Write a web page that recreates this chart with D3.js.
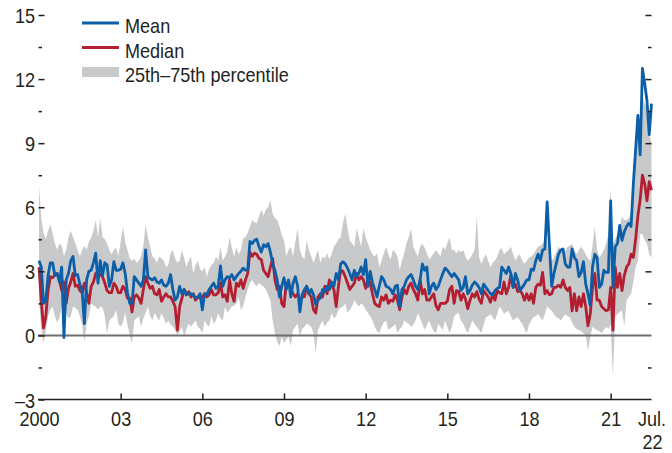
<!DOCTYPE html>
<html><head><meta charset="utf-8">
<script src="https://cdn.jsdelivr.net/npm/d3@7"></script>
<style>
html,body{margin:0;padding:0;background:#fff;}
svg{display:block;}
text{font-family:"Liberation Sans",Arial,sans-serif;font-size:21px;fill:#231f20;}
</style></head><body>
<svg id="chart" width="672" height="453"></svg>
<script>
// ---- data (monthly, Jan 2000 .. Jul 2022) ----
const startYear = 2000;
const yMajorTicks = [-3, 0, 3, 6, 9, 12, 15];
const yMinorTicks = [-1.5, 1.5, 4.5, 7.5, 10.5, 13.5];
const xTickMonths = [0, 36, 72, 108, 144, 180, 216, 252, 270];
const xTickLabels = ["2000", "03", "06", "09", "12", "15", "18", "21", "Jul."];
const xLastLabelLine2 = "22";
const seriesNames = ["Mean", "Median", "25th\u201375th percentile"];

const mean = [
3.5,3.2,1.5,1.6,2.8,3.4,3.4,2.8,2.9,2.5,
3.2,-0.1,2.6,2.9,3.5,3.7,2.8,2.85,2.4,2.1,
0.55,2.6,3.0,3.05,3.4,3.85,2.45,3.5,2.8,3.4,
3.3,2.3,2.6,3.45,3.05,3.05,3.1,3.4,2.9,2.0,
1.5,1.5,2.75,2.6,2.45,2.3,2.6,4.0,2.75,2.65,
2.6,2.7,2.5,2.45,2.6,2.35,2.3,2.45,2.85,2.15,
1.65,1.8,2.3,1.95,2.15,1.9,1.95,1.95,1.9,1.75,
1.8,1.95,1.2,1.95,1.9,2.15,2.3,2.45,2.2,2.3,
3.25,2.3,2.6,2.75,2.7,2.85,2.6,2.75,2.9,3.0,
3.15,3.05,3.1,4.4,4.3,4.45,4.5,4.15,3.9,4.25,
4.15,4.3,3.9,3.35,3.05,2.6,1.8,2.3,2.7,2.15,
2.6,1.8,2.45,2.75,2.3,1.1,1.9,2.15,2.3,1.95,
2.15,1.9,1.45,1.65,1.75,2.15,2.05,2.3,2.15,2.5,
2.3,2.9,2.6,3.35,3.45,3.35,3.15,2.9,2.6,3.05,
2.75,2.9,3.2,2.85,3.55,2.3,3.0,2.45,2.15,1.8,
2.3,2.75,2.6,2.3,2.25,2.15,1.95,2.3,2.35,1.35,
2.15,2.3,2.6,2.75,2.85,2.6,2.3,2.15,2.6,3.35,
3.05,3.2,1.95,2.3,2.45,2.15,2.3,2.6,2.9,3.15,
3.05,2.9,2.75,2.9,2.75,2.6,2.1,2.25,2.75,1.95,
2.1,2.35,2.5,2.4,2.25,1.95,2.4,2.25,2.1,1.95,
1.9,2.1,2.2,2.25,3.2,3.05,2.9,3.2,2.9,2.25,
2.9,2.6,2.1,2.25,2.4,2.6,2.6,3.1,3.05,3.5,
3.8,3.5,4.0,4.05,6.25,4.2,2.3,2.9,3.35,3.8,
4.0,4.05,3.35,3.2,3.2,4.05,3.65,3.5,2.75,2.95,
3.45,2.4,1.95,1.4,3.2,3.8,3.65,2.25,2.4,3.05,
2.95,2.95,6.3,2.25,4.15,4.3,5.15,4.45,4.85,5.1,
5.25,5.1,7.1,8.7,10.3,8.45,12.5,11.8,11.0,9.4,
10.85];

const median = [
3.2,1.6,0.35,0.9,2.1,2.75,2.7,2.85,2.9,2.6,
2.1,2.5,1.5,2.2,2.5,2.9,2.3,2.35,2.1,2.0,
2.45,2.0,1.5,2.3,2.5,2.9,2.75,2.85,2.75,2.45,
2.1,2.0,2.0,2.45,2.3,2.0,2.0,2.3,2.15,1.75,
1.75,1.1,1.8,1.9,1.75,1.5,2.15,2.75,2.45,2.2,
2.3,1.95,1.9,2.15,1.6,1.8,1.95,1.8,1.8,1.6,
1.35,0.25,1.35,1.75,2.15,1.9,2.05,1.8,1.95,1.65,
1.8,1.75,1.8,1.95,1.8,1.9,2.15,1.9,1.9,2.0,
2.45,1.8,1.9,1.6,2.6,1.95,1.6,2.45,2.3,2.6,
2.2,2.6,2.9,3.9,3.7,3.85,3.8,3.6,3.55,3.05,
2.9,2.75,3.2,3.6,2.6,2.15,2.3,1.5,1.35,2.45,
2.45,2.15,1.95,1.8,1.95,1.65,1.8,1.8,2.3,1.95,
1.8,1.2,1.05,1.8,1.95,1.8,2.3,1.95,2.6,2.3,
2.15,1.35,2.3,3.05,3.0,2.75,2.45,2.15,2.3,2.45,
2.9,2.6,2.75,2.6,2.2,2.6,2.45,1.95,1.5,1.4,
1.35,1.8,1.65,1.9,1.5,1.65,1.6,1.9,1.65,1.2,
1.8,2.15,1.95,2.3,2.45,2.15,1.95,1.65,2.6,1.95,
2.15,1.65,1.65,1.8,1.95,1.4,1.2,1.5,1.5,1.5,
1.6,2.15,2.3,1.5,2.1,2.05,1.65,1.95,1.7,1.25,
1.65,1.95,1.8,2.05,1.7,1.5,2.1,1.95,1.8,1.55,
1.95,1.65,2.1,2.0,1.95,2.5,1.95,2.25,2.8,2.25,
2.4,2.05,2.1,1.95,1.65,1.95,1.65,1.95,1.5,2.25,
2.4,2.35,2.95,1.95,2.1,1.9,1.95,2.25,2.25,2.35,
2.25,2.6,2.25,2.1,2.25,1.15,1.95,1.15,1.8,1.35,
1.95,1.35,0.45,1.0,2.25,2.9,1.65,1.65,1.35,1.25,
1.15,1.2,2.25,0.25,3.2,2.25,2.9,2.1,2.8,3.2,
3.35,3.8,3.65,4.5,5.6,6.35,7.5,7.1,6.3,7.2,
6.8];

const p75 = [
7.0,5.5,4.8,4.5,4.9,5.2,4.8,4.3,4.0,4.3,
4.2,3.7,4.0,4.6,4.9,4.6,4.3,4.0,3.7,4.0,
4.2,4.0,4.4,4.6,4.9,5.4,4.6,5.5,4.6,4.5,
4.3,4.0,3.8,4.0,4.1,3.7,4.4,5.1,4.4,4.0,
3.6,3.5,3.6,3.4,3.5,3.7,4.2,5.2,4.6,4.15,
3.7,3.6,3.4,3.7,3.6,3.5,3.2,3.3,3.85,4.0,
3.6,3.4,3.5,4.0,3.6,3.2,3.5,3.7,2.9,3.3,
3.5,3.1,3.0,3.2,2.75,3.1,3.3,3.4,3.7,3.5,
4.15,3.5,3.7,3.9,4.6,4.1,3.7,4.15,3.8,4.0,
4.55,4.6,4.8,5.1,5.4,5.3,5.25,5.6,5.9,5.6,
5.9,6.0,6.35,5.7,5.5,5.4,5.1,4.7,4.45,3.7,
4.0,4.15,3.7,4.4,5.0,4.0,3.7,3.55,4.45,4.0,
3.7,3.4,3.7,4.0,3.4,3.7,3.6,3.85,3.55,3.8,
4.15,4.3,4.5,4.6,5.25,5.7,5.0,4.45,4.3,4.15,
5.0,4.6,4.15,5.0,4.6,4.3,4.0,3.8,3.7,3.85,
3.2,3.5,3.85,4.15,3.8,3.55,4.0,3.9,3.7,3.05,
3.5,3.85,4.3,4.6,5.0,4.15,3.9,3.7,4.15,4.3,
4.1,3.85,3.55,3.7,3.85,4.0,3.85,3.7,4.15,4.0,
4.3,4.6,4.0,4.0,3.85,4.0,3.9,4.0,3.7,3.5,
3.6,3.8,4.0,5.55,3.65,3.35,3.6,3.8,3.5,3.2,
3.4,3.5,3.7,4.0,4.1,3.8,3.9,4.0,4.15,3.8,
3.5,3.7,3.8,3.5,3.35,3.5,3.65,3.7,3.8,4.0,
4.15,4.2,4.3,4.4,4.45,3.35,3.5,3.65,3.9,4.15,
4.0,3.8,3.95,4.15,4.2,4.3,4.0,3.8,4.0,4.15,
4.0,3.8,3.6,3.5,4.2,5.1,4.0,3.65,3.8,4.0,
4.3,4.75,6.9,4.3,4.5,4.75,5.1,5.55,5.4,5.4,
5.5,5.7,6.95,8.5,9.6,10.25,11.2,10.85,10.7,9.45,
9.0];

const p25 = [
1.6,0.3,-0.35,0.2,0.9,1.2,1.35,0.9,0.6,0.8,
1.35,0.55,1.05,0.8,0.9,1.35,1.3,1.2,0.9,0.5,
-0.3,0.55,0.9,1.5,1.4,1.35,1.2,1.35,1.3,0.9,
0.1,0.7,0.8,0.9,1.2,0.55,0.4,0.6,1.05,0.5,
0.0,-0.35,0.7,0.8,0.9,0.4,0.8,1.05,1.35,0.9,
0.7,1.05,0.85,0.7,1.05,0.8,0.55,0.7,0.5,0.4,
0.25,0.0,0.2,0.4,-0.05,0.3,0.55,0.4,0.55,0.7,
0.4,0.3,0.1,0.7,0.5,0.4,0.9,0.55,0.7,1.05,
0.8,0.7,1.35,1.05,1.2,1.35,1.4,1.5,1.8,1.2,
1.35,1.8,2.15,2.45,2.6,2.4,2.3,2.45,2.35,2.3,
2.15,1.9,1.65,0.7,0.1,-0.3,-0.5,-0.05,-0.35,-0.2,
-0.05,-0.5,0.25,0.4,0.55,-0.05,0.3,0.4,0.55,0.5,
0.4,0.1,-0.85,0.25,0.5,0.7,0.4,0.6,0.7,1.05,
0.8,0.9,1.2,1.3,1.35,1.5,1.05,1.2,1.35,1.65,
1.5,1.35,1.5,1.4,1.2,1.05,0.9,0.7,0.4,0.2,
0.1,0.4,0.6,0.7,0.25,0.35,0.4,0.55,0.1,0.3,
0.4,0.7,0.6,0.55,0.4,0.5,0.7,1.05,0.8,0.55,
0.25,0.5,0.7,0.4,0.2,0.1,0.55,0.4,0.25,0.7,
0.4,0.1,0.4,0.9,1.0,1.05,0.7,0.55,0.3,0.1,
0.4,0.7,0.55,0.4,0.25,0.1,0.5,0.85,0.9,1.0,
0.85,0.7,1.0,1.35,1.2,1.0,1.1,1.15,0.9,0.7,
0.8,0.85,0.7,0.55,0.3,0.1,0.5,0.7,0.85,0.9,
1.0,0.85,0.7,1.0,1.35,1.25,1.15,1.0,0.85,0.8,
0.7,0.85,1.0,0.9,0.85,0.6,0.4,0.3,0.25,0.2,
0.1,0.0,-0.7,-0.1,0.4,0.3,0.25,0.2,0.1,0.25,
0.4,0.3,0.5,-1.95,0.85,1.0,1.1,1.15,0.4,1.65,
1.8,1.95,2.5,3.2,3.5,4.75,4.75,4.45,4.3,3.8,
3.65];

[mean, median, p25, p75].forEach((a, i) => {
  if (a.length !== 271) throw new Error("series " + i + " has length " + a.length);
});

// ---- chart ----
const svg = d3.select("#chart");
const x = d3.scaleLinear().domain([0, 270]).range([39, 651.5]);
const y = d3.scaleLinear().domain([-3, 15]).range([399.5, 15]);
const months = d3.range(mean.length);

const BLUE = "#0b5fa8", RED = "#b31f31", BAND = "#c8c9cb", INK = "#231f20";

// band
svg.append("path")
  .datum(months)
  .attr("fill", BAND)
  .attr("d", d3.area().x(i => x(i)).y0(i => y(p25[i])).y1(i => y(p75[i])));

// zero line
svg.append("line")
  .attr("x1", x.range()[0] - 1).attr("x2", x.range()[1])
  .attr("y1", y(0)).attr("y2", y(0))
  .attr("stroke", "#6f6f6f").attr("stroke-width", 2);

// lines
const lineGen = arr => d3.line().x(i => x(i)).y(i => y(arr[i]))(months);
svg.append("path").attr("d", lineGen(median)).attr("fill", "none")
  .attr("stroke", RED).attr("stroke-width", 2.8).attr("stroke-linejoin", "round");
svg.append("path").attr("d", lineGen(mean)).attr("fill", "none")
  .attr("stroke", BLUE).attr("stroke-width", 2.8).attr("stroke-linejoin", "round");

// axes
function styleAxis(g) {
  g.select(".domain").remove();
  g.selectAll(".tick line").attr("stroke", INK).attr("stroke-width", 1.5);
  g.selectAll("text").attr("fill", INK).attr("font-size", null).attr("font-family", null);
}
const fmtY = d => d < 0 ? "\u2013" + Math.abs(d) : String(d);

svg.append("g").attr("transform", "translate(38.5,0)")
  .call(d3.axisLeft(y).tickValues(yMajorTicks).tickSize(-6).tickPadding(3.5).tickFormat(fmtY))
  .call(styleAxis)
  .call(g => g.selectAll("text").attr("dy", "0.36em"));
svg.append("g").attr("transform", "translate(38.5,0)")
  .call(d3.axisLeft(y).tickValues(yMinorTicks).tickSize(-3.5).tickFormat(""))
  .call(styleAxis);
svg.append("g").attr("transform", "translate(651.5,0)")
  .call(d3.axisRight(y).tickValues(yMajorTicks.filter(v => v > 0)).tickSize(-6).tickFormat(""))
  .call(styleAxis);
svg.append("g").attr("transform", "translate(651.5,0)")
  .call(d3.axisRight(y).tickValues(yMinorTicks).tickSize(-3.5).tickFormat(""))
  .call(styleAxis);

// bottom axis
const xg = svg.append("g").attr("transform", `translate(0,${y(-3)})`)
  .call(d3.axisBottom(x).tickValues(xTickMonths).tickSize(-6).tickPadding(11.5)
    .tickFormat((d, i) => xTickLabels[i]))
  .call(g => g.select(".domain").remove())
  .call(g => g.selectAll(".tick line").attr("stroke", INK).attr("stroke-width", 1.5)
    .attr("display", d => (d === 0 || d === 270) ? "none" : null))
  .call(g => g.selectAll("text").attr("fill", INK).attr("font-size", null).attr("font-family", null));
xg.append("line").attr("x1", x.range()[0] - 1).attr("x2", x.range()[1])
  .attr("y1", 0).attr("y2", 0).attr("stroke", INK).attr("stroke-width", 1.5);
xg.append("text").attr("x", x(270) + 1).attr("y", 11.5).attr("dy", "1.81em")
  .attr("text-anchor", "middle").text(xLastLabelLine2);

// legend
const leg = svg.append("g");
const legColors = [BLUE, RED, BAND];
seriesNames.forEach((name, i) => {
  const cy = 23 + i * 24.5;
  if (i < 2) {
    leg.append("line").attr("x1", 82).attr("x2", 119).attr("y1", cy).attr("y2", cy)
      .attr("stroke", legColors[i]).attr("stroke-width", 2.8);
  } else {
    leg.append("rect").attr("x", 82).attr("y", cy - 5).attr("width", 37).attr("height", 10)
      .attr("fill", legColors[i]);
  }
  leg.append("text").attr("x", 125).attr("y", cy + 10.3).text(name);
});

// condensed look: compress every text horizontally
svg.selectAll("text").each(function () {
  const w = this.getComputedTextLength();
  if (w > 0) {
    d3.select(this).attr("textLength", (w * 0.86).toFixed(1)).attr("lengthAdjust", "spacingAndGlyphs");
  }
});
</script>
</body></html>
